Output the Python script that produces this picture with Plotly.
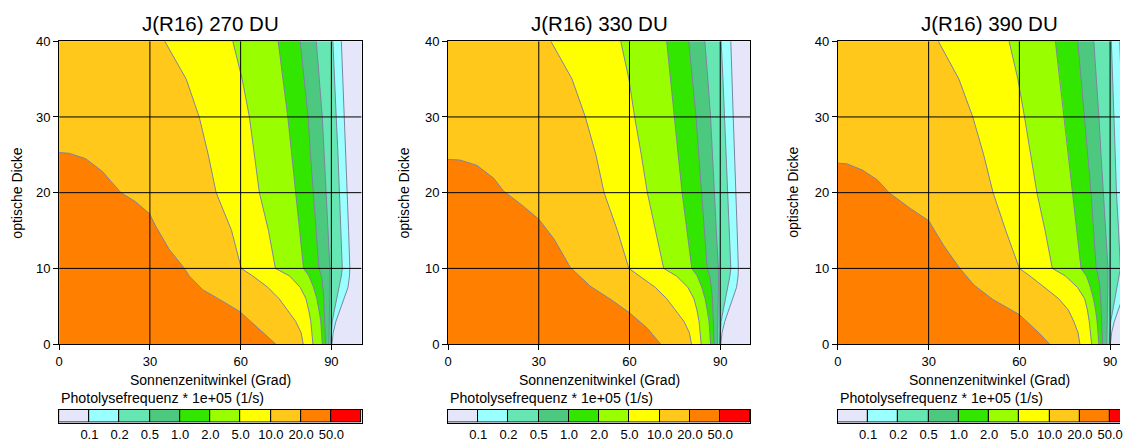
import plotly.graph_objects as go

FONT = "Liberation Sans, Arial, Helvetica, sans-serif"

# ---------------- texts ----------------
panel_titles = ["J(R16) 270 DU", "J(R16) 330 DU", "J(R16) 390 DU"]
x_title = "Sonnenzenitwinkel (Grad)"
y_title = "optische Dicke"
cbar_title = "Photolysefrequenz * 1e+05 (1/s)"

# ---------------- levels / colours ----------------
level_labels = ["0.1", "0.2", "0.5", "1.0", "2.0", "5.0", "10.0", "20.0", "50.0"]
band_colors = ["#E6E6FA", "#99FFFF", "#66E6B3", "#4DC97F", "#33E600",
               "#99FF00", "#FFFF00", "#FFC81A", "#FF8000", "#FF0000"]

x_ticks = [0, 30, 60, 90]
y_ticks = [0, 10, 20, 30, 40]

# optical depth rows at which the contour boundaries were read
tau_grid = [0, 1.5, 3, 4.5, 6, 7.5, 9, 10, 15, 20, 25, 30, 35, 40]

# ---------------- panel 1 (270 DU): solar zenith angle of each contour ----------------
p1_b01 = [90.2, 90.6, 91.5, 92.8, 94.3, 95.5, 96.0, 96.1, 95.7, 95.2, 94.8, 94.4, 93.9, 93.3]
p1_b02 = [89.8, 89.95, 90.3, 91.0, 91.8, 92.6, 93.3, 93.6, 93.2, 92.8, 92.2, 91.6, 91.1, 90.5]
p1_b05 = [89.2, 89.3, 89.4, 89.5, 89.5, 89.5, 89.5, 89.5, 88.9, 88.3, 87.7, 87.0, 86.0, 85.0]
p1_b1 = [88.1, 88.0, 87.9, 87.7, 87.5, 87.2, 86.7, 85.9, 84.9, 83.9, 83.1, 82.3, 81.0, 79.7]
p1_b2 = [87.0, 86.8, 86.5, 85.9, 85.2, 84.1, 82.6, 80.8, 79.5, 78.2, 77.0, 75.6, 74.0, 72.4]
p1_b5 = [83.9, 83.6, 83.2, 82.5, 81.6, 79.7, 76.2, 71.5, 69.2, 66.2, 64.6, 62.9, 60.5, 57.4]
p1_b10 = [80.7, 80.0, 78.2, 75.4, 72.7, 69.0, 64.0, 60.2, 57.0, 51.9, 49.3, 46.3, 42.0, 34.9]
p1_b20_sza = [71.6, 67.3, 62.9, 59.7, 53.0, 47.4, 43.0, 41.4, 36.4, 31.9, 29.9, 25.3, 20.4, 14.3, 8.7, 3.2, 0.0]
p1_b20_tau = [0.0, 1.6, 3.2, 4.3, 5.9, 7.2, 9.0, 10.0, 12.5, 15.6, 17.2, 18.8, 20.0, 22.8, 24.5, 25.2, 25.3]

# ---------------- panel 2 (330 DU) ----------------
p2_b01 = [90.2, 90.6, 91.5, 92.8, 94.2, 95.4, 95.9, 96.0, 95.6, 95.1, 94.7, 94.3, 93.9, 93.5]
p2_b02 = [89.8, 89.95, 90.3, 91.0, 91.8, 92.5, 93.2, 93.5, 93.0, 92.6, 92.0, 91.4, 90.9, 90.3]
p2_b05 = [89.1, 89.2, 89.3, 89.4, 89.4, 89.4, 89.4, 89.4, 88.7, 88.1, 87.5, 86.8, 85.9, 84.9]
p2_b1 = [88.0, 87.9, 87.8, 87.6, 87.4, 87.1, 86.5, 85.7, 84.7, 83.7, 82.9, 82.0, 80.8, 79.6]
p2_b2 = [86.8, 86.6, 86.3, 85.7, 85.0, 83.9, 82.4, 80.6, 79.0, 77.4, 76.1, 74.8, 73.6, 72.3]
p2_b5 = [83.7, 83.4, 83.0, 82.3, 81.3, 79.3, 75.5, 71.3, 68.6, 65.9, 63.9, 61.7, 59.8, 57.1]
p2_b10 = [80.5, 79.8, 78.0, 75.0, 72.3, 68.5, 63.5, 59.8, 56.0, 51.6, 48.9, 45.4, 41.0, 34.0]
p2_b20_sza = [70.3, 65.9, 59.8, 53.8, 47.2, 40.5, 35.0, 30.0, 24.0, 18.4, 15.1, 9.6, 4.0, 0.0]
p2_b20_tau = [0.0, 2.1, 4.2, 5.9, 7.6, 10.1, 13.9, 16.5, 18.5, 20.2, 21.9, 23.6, 24.3, 24.4]

# ---------------- panel 3 (390 DU) ----------------
p3_b01 = [90.1, 90.5, 91.4, 92.7, 94.1, 95.3, 95.8, 95.9, 95.3, 94.8, 94.3, 93.8, 93.6, 93.2]
p3_b02 = [89.7, 89.9, 90.2, 90.9, 91.6, 92.4, 93.1, 93.4, 92.8, 92.1, 91.7, 91.3, 90.8, 90.4]
p3_b05 = [88.9, 89.0, 89.1, 89.2, 89.3, 89.3, 89.3, 89.3, 88.5, 87.6, 87.0, 86.3, 85.5, 84.6]
p3_b1 = [87.5, 87.4, 87.3, 87.1, 86.9, 86.6, 86.1, 85.4, 84.6, 83.7, 82.6, 81.4, 80.4, 79.3]
p3_b2 = [86.3, 86.1, 85.7, 85.2, 84.5, 83.5, 82.2, 80.4, 79.0, 77.7, 76.3, 74.9, 73.5, 71.9]
p3_b5 = [83.9, 83.6, 83.1, 82.5, 81.6, 79.2, 75.2, 70.9, 68.5, 65.8, 63.8, 61.7, 59.5, 56.6]
p3_b10 = [80.0, 79.4, 78.0, 76.2, 73.0, 68.3, 63.5, 60.0, 55.5, 51.3, 48.2, 44.6, 40.0, 33.2]
p3_b20_sza = [70.0, 66.7, 60.0, 51.2, 45.0, 40.3, 35.0, 30.0, 24.0, 16.9, 13.0, 8.0, 3.0, 0.0]
p3_b20_tau = [0.0, 1.4, 3.9, 5.9, 7.8, 10.0, 13.0, 16.3, 17.9, 20.0, 21.7, 23.0, 23.8, 23.9]

panels = [
    ([p1_b01, p1_b02, p1_b05, p1_b1, p1_b2, p1_b5, p1_b10], p1_b20_sza, p1_b20_tau),
    ([p2_b01, p2_b02, p2_b05, p2_b1, p2_b2, p2_b5, p2_b10], p2_b20_sza, p2_b20_tau),
    ([p3_b01, p3_b02, p3_b05, p3_b1, p3_b2, p3_b5, p3_b10], p3_b20_sza, p3_b20_tau),
]

# ---------------- layout geometry ----------------
W, H = 1123, 442


# the photographed page lands in the picture as X = 2.1 + 0.989*x, Y = 9 + 0.96*y,
# so target positions (picture pixels) are converted to page pixels here
def fx(px):
    return (px - 2.1) / 0.989


def fy(py):
    return (py - 9.0) / 0.96


def paper_x(px):
    return fx(px) / W


def paper_y(py):
    return 1 - fy(py) / H


left_px = [57, 444, 832]          # picture pixel of x = 0
full_w_px = 301                    # picture width of a complete panel (x 0..100)
title_cx = [207.5, 595, 982.5]
ytitle_x = [15, 400, 786.5]
plot_top, plot_bot = 43, 344
cb_top, cb_bot = 409, 422

LINE_COLOR = "rgb(125,132,160)"

fig = go.Figure()

for i, (bounds, b20_sza, b20_tau) in enumerate(panels):
    xa = "x" if i == 0 else f"x{i + 1}"
    ya = "y" if i == 0 else f"y{i + 1}"

    # horizontal extent (third panel is cut by the page edge)
    d0 = fx(left_px[i]) / W
    d1_full = fx(left_px[i] + full_w_px) / W
    d1 = min(d1_full, 1.0)
    frac = (d1 - d0) / (d1_full - d0)
    x_max = 100 * frac
    cb_max = 10 * frac

    # filled bands: each polygon covers everything left of its contour
    for k, bx in enumerate(bounds):
        fig.add_trace(go.Scatter(
            x=[0] + bx + [0], y=[tau_grid[0]] + tau_grid + [tau_grid[-1]],
            fill="toself", fillcolor=band_colors[k + 1], mode="lines",
            line=dict(width=0), hoverinfo="skip", showlegend=False,
            xaxis=xa, yaxis=ya))
    fig.add_trace(go.Scatter(
        x=[0] + b20_sza + [0], y=[0] + b20_tau + [0],
        fill="toself", fillcolor=band_colors[8], mode="lines",
        line=dict(width=0), hoverinfo="skip", showlegend=False,
        xaxis=xa, yaxis=ya))
    # contour lines
    for bx in bounds:
        fig.add_trace(go.Scatter(
            x=bx, y=tau_grid, mode="lines",
            line=dict(color=LINE_COLOR, width=1), hoverinfo="skip",
            showlegend=False, xaxis=xa, yaxis=ya))
    fig.add_trace(go.Scatter(
        x=b20_sza, y=b20_tau, mode="lines",
        line=dict(color=LINE_COLOR, width=1), hoverinfo="skip",
        showlegend=False, xaxis=xa, yaxis=ya))

    # black grid lines drawn above the filled contours
    for gx in x_ticks[1:]:
        fig.add_shape(type="line", xref=xa, yref=ya, x0=gx, x1=gx,
                      y0=y_ticks[0], y1=y_ticks[-1], layer="above",
                      line=dict(color="black", width=1))
    for gy in y_ticks[1:-1]:
        fig.add_shape(type="line", xref=xa, yref=ya, x0=0, x1=x_max,
                      y0=gy, y1=gy, layer="above",
                      line=dict(color="black", width=1))

    fig.update_layout(**{
        ("xaxis" if i == 0 else f"xaxis{i + 1}"): dict(
            domain=[d0, d1], range=[0, x_max], anchor=ya,
            tickvals=x_ticks, ticks="outside", ticklen=5, tickcolor="black",
            showgrid=False, zeroline=False, showline=True, linecolor="black",
            linewidth=1, mirror=True, ticklabeloverflow="allow",
            tickfont=dict(family=FONT, size=13, color="black")),
        ("yaxis" if i == 0 else f"yaxis{i + 1}"): dict(
            domain=[paper_y(plot_bot), paper_y(plot_top)], range=[0, 40],
            anchor=xa, tickvals=y_ticks, ticks="outside", ticklen=5,
            tickcolor="black", showgrid=False, zeroline=False, showline=True,
            linecolor="black", linewidth=1, mirror=(i < 2),
            tickfont=dict(family=FONT, size=13, color="black")),
    })

    # colour bar (discrete boxes) below each panel
    cxa = f"x{i + 4}"
    cya = f"y{i + 4}"
    fig.add_trace(go.Bar(
        x=[j + 0.5 for j in range(len(band_colors))], y=[1] * len(band_colors),
        width=1, marker=dict(color=band_colors, line=dict(color="black", width=1)),
        hoverinfo="skip", showlegend=False, cliponaxis=False,
        xaxis=cxa, yaxis=cya))
    fig.update_layout(**{
        f"xaxis{i + 4}": dict(
            domain=[d0, d1], range=[0, cb_max], anchor=cya,
            tickvals=list(range(1, len(level_labels) + 1)), ticktext=level_labels,
            ticks="", showgrid=False, zeroline=False, showline=True,
            linecolor="black", mirror=True, fixedrange=True,
            ticklabeloverflow="allow",
            tickfont=dict(family=FONT, size=13, color="black")),
        f"yaxis{i + 4}": dict(
            domain=[paper_y(cb_bot), paper_y(cb_top)], range=[0, 1], anchor=cxa,
            showticklabels=False, ticks="", showgrid=False, zeroline=False,
            showline=True, linecolor="black", mirror=(i < 2), fixedrange=True),
    })

    # texts
    fig.add_annotation(x=paper_x(title_cx[i]), y=paper_y(25.5), xref="paper", yref="paper",
                       text=panel_titles[i], showarrow=False, xanchor="center",
                       yanchor="middle", font=dict(family=FONT, size=20.5, color="black"))
    fig.add_annotation(x=paper_x(title_cx[i]), y=paper_y(380), xref="paper", yref="paper",
                       text=x_title, showarrow=False, xanchor="center",
                       yanchor="middle", font=dict(family=FONT, size=14, color="black"))
    fig.add_annotation(x=paper_x(ytitle_x[i]), y=paper_y((plot_top + plot_bot) / 2),
                       xref="paper", yref="paper", text=y_title, textangle=-90,
                       showarrow=False, xanchor="center", yanchor="middle",
                       font=dict(family=FONT, size=14, color="black"))
    fig.add_annotation(x=paper_x(left_px[i]), y=paper_y(398), xref="paper", yref="paper",
                       text=cbar_title, showarrow=False, xanchor="left",
                       yanchor="middle", font=dict(family=FONT, size=14.2, color="black"))

fig.update_layout(
    width=W, height=H, autosize=False,
    margin=dict(l=0, r=0, t=0, b=0),
    paper_bgcolor="white", plot_bgcolor=band_colors[0],
    bargap=0, font=dict(family=FONT, color="black"),
)

fig.write_html("out.html")
